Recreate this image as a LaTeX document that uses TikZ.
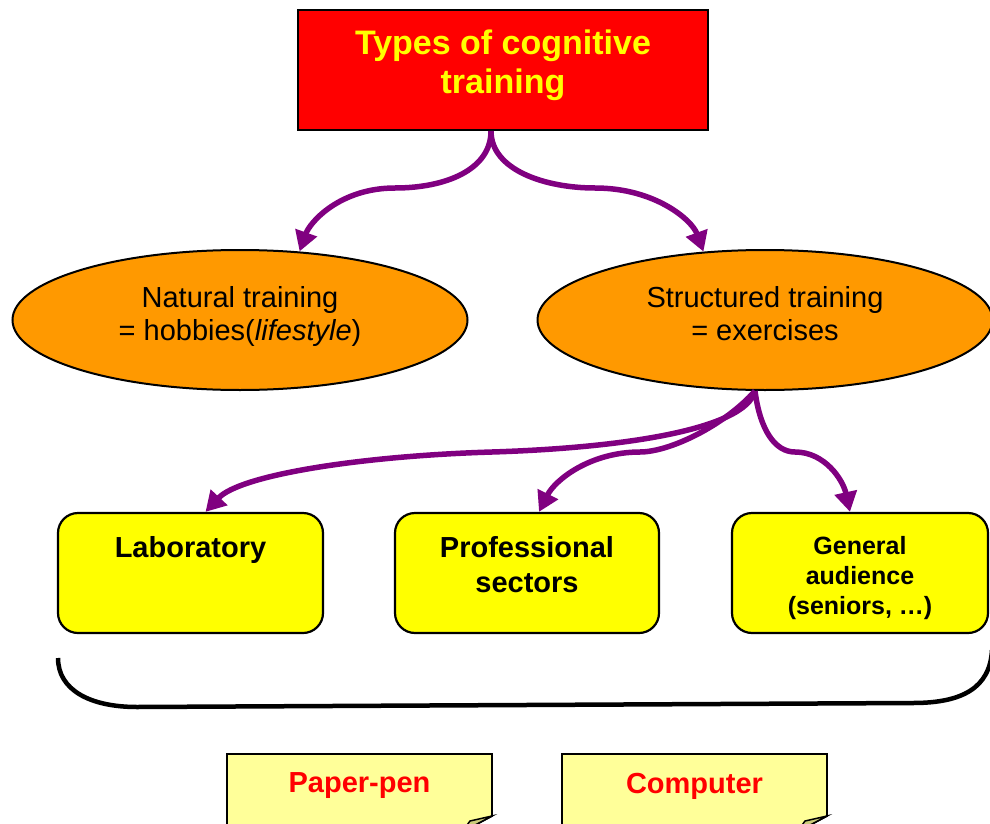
\documentclass[tikz,border=0pt]{standalone}
\usepackage{fontspec}
\setmainfont{Liberation Sans}
\usetikzlibrary{arrows.meta,positioning,shapes.geometric}
\definecolor{titlered}{HTML}{FF0000}
\definecolor{ovalorange}{HTML}{FF9900}
\definecolor{boxyellow}{HTML}{FFFF00}
\definecolor{notepale}{HTML}{FFFF99}
\definecolor{notefold}{HTML}{CCCC7A}
\definecolor{flowpurple}{HTML}{800080}

\begin{document}
\begin{tikzpicture}[x=1pt,y=-1pt,
  flow/.style={draw=flowpurple,line width=5.5pt,-{Triangle[length=20pt,width=22pt]}},
  oval/.style={ellipse,draw,line width=2pt,fill=ovalorange,minimum width=455pt,minimum height=140pt,inner sep=0pt,align=center,font=\fontsize{29}{33}\selectfont},
  sector/.style={draw,line width=2.2pt,fill=boxyellow,rounded corners=20pt,minimum height=120pt},
  sectortext/.style={inner sep=0pt,align=center,font=\bfseries\fontsize{29}{35}\selectfont},
  notetext/.style={inner sep=0pt,text=red,font=\bfseries\fontsize{29}{35}\selectfont}]
  \useasboundingbox (0,0) rectangle (990,824);

  \node[draw,line width=2pt,fill=titlered,text=boxyellow,minimum width=410pt,minimum height=120pt,inner sep=0pt,align=center,font=\bfseries\fontsize{34}{39}\selectfont] (title) at (503,70) {Types of cognitive\\training\rule[-17pt]{0pt}{0pt}};

  \node[oval] (nat) at (240,320) {Natural training\\= hobbies(\textit{lifestyle})\rule[-14pt]{0pt}{0pt}};
  \node[oval] (str) at (765,320) {Structured training\\= exercises\rule[-14pt]{0pt}{0pt}};

  \draw[flow] ([xshift=-12pt]title.south) .. controls (491,170) and (445,188) .. (395,188) .. controls (340,188) and (310,222) .. (nat.49);
  \draw[flow] ([xshift=-12pt]title.south) .. controls (491,170) and (545,188) .. (595,188) .. controls (655,188) and (692,220) .. (str.132);

  \node[sector,minimum width=265pt] (lab) at (190.5,573) {};
  \node[sector,minimum width=264pt] (prof) at (527,573) {};
  \node[sector,minimum width=256pt] (gen) at (860,573) {};
  \node[sectortext,below=24pt of lab.north] (labtxt) {Laboratory};
  \node[sectortext,below=24pt of prof.north] (proftxt) {Professional\\sectors};
  \node[sectortext,font=\bfseries\fontsize{25}{30}\selectfont,below=24pt of gen.north] (gentxt) {General\\audience\\(seniors, …)};

  \draw[flow] ([xshift=-10pt]str.south) .. controls (745,430) and (620,448) .. (492,452) .. controls (360,456) and (240,475) .. ([xshift=15pt]lab.north);
  \draw[flow] ([xshift=-10pt]str.south) .. controls (725,425) and (670,452) .. (640,452) .. controls (590,452) and (555,480) .. ([xshift=12pt]prof.north);
  \draw[flow] ([xshift=-10pt]str.south) .. controls (760,430) and (775,452) .. (795,452) .. controls (825,452) and (843,480) .. ([xshift=-10pt]gen.north);

  % bracket under the three groups
  \draw[line width=4.5pt] (58,658) .. controls (58,690) and (90,707) .. (137,707) -- (913,703) .. controls (962,703) and (990,688) .. (992,650);

  \foreach \xa/\xb in {227/492, 562/827} {
    \filldraw[fill=notepale,line width=1.8pt] (\xa,754) -- (\xb,754) -- (\xb,816) -- (\xb-30,832) -- (\xa,832) -- cycle;
    \filldraw[fill=notefold,line width=1.5pt] (\xb,816) -- (\xb-22,821) -- (\xb-30,832) -- cycle;
  }
  \node[notetext] (paper) at (359.5,786) {Paper-pen};
  \node[notetext] (comp) at (694.5,786) {Computer};
\end{tikzpicture}
\end{document}
